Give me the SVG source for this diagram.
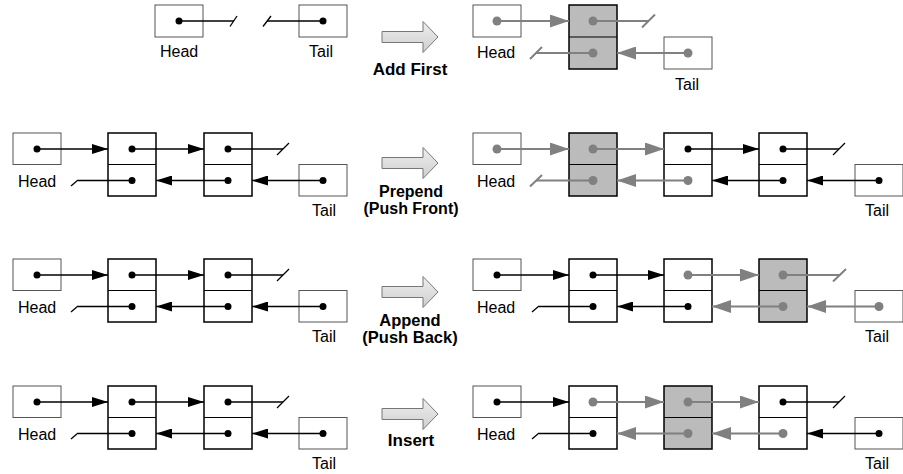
<svg xmlns="http://www.w3.org/2000/svg" width="903" height="474" viewBox="0 0 903 474">
<defs>
<style>
.box{fill:#fff;stroke:#555;stroke-width:1}
.node{fill:#fff;stroke:#000;stroke-width:1.5}
.new{fill:#bbb}
.div{stroke:#000;stroke-width:1.2}
.b{stroke:#000;stroke-width:1.3;fill:none}
.g{stroke:#808080;stroke-width:2;fill:none}
.db{fill:#000}
.dg{fill:#808080}
.lbl{font-family:"Liberation Sans",Arial,sans-serif;font-size:16px;fill:#000}
.op{font-family:"Liberation Sans",Arial,sans-serif;font-weight:bold;fill:#000;text-anchor:middle}
.big{fill:url(#grad);stroke:#777;stroke-width:1}
</style>
<linearGradient id="grad" x1="0" y1="0" x2="0" y2="1">
<stop offset="0" stop-color="#eeeeee"/>
<stop offset="1" stop-color="#cfcfcf"/>
</linearGradient>
<marker id="ab" markerUnits="userSpaceOnUse" markerWidth="16" markerHeight="10" refX="16" refY="5" orient="auto">
<path d="M0,0 L16,5 L0,10 z" fill="#000"/>
</marker>
<marker id="ag" markerUnits="userSpaceOnUse" markerWidth="19" markerHeight="13" refX="19" refY="6.5" orient="auto">
<path d="M0,0 L19,6.5 L0,13 z" fill="#808080"/>
</marker>
</defs>

<!-- ===== Row 1 ===== -->
<g id="r1-head-before"><rect class="box" x="155" y="5" width="48" height="32"/><text class="lbl" x="160" y="57">Head</text></g>
<g id="r1-tail-before"><rect class="box" x="299" y="5" width="48" height="32"/><text class="lbl" x="309" y="57">Tail</text></g>
<g id="r1-op"><polygon class="big" points="382,31.5 423,31.5 423,21.5 438,37 423,52.5 423,42.5 382,42.5"/><text class="op" x="410" y="75" font-size="17">Add First</text></g>
<g id="r1-head-after"><rect class="box" x="473" y="5" width="48" height="32"/><text class="lbl" x="477" y="58">Head</text></g>
<g id="r1-new"><rect class="node new" x="569" y="5" width="48" height="64"/><line class="div" x1="569" y1="37" x2="617" y2="37"/></g>
<g id="r1-tail-after"><rect class="box" x="664" y="37" width="48" height="32"/><text class="lbl" x="675" y="90">Tail</text></g>

<!-- ===== Row 2 ===== -->
<g id="r2-head-before"><rect class="box" x="13" y="133" width="48" height="31.5"/><text class="lbl" x="18" y="187">Head</text></g>
<g id="r2-n1-before"><rect class="node" x="108" y="133" width="48" height="63"/><line class="div" x1="108" y1="164.5" x2="156" y2="164.5"/></g>
<g id="r2-n2-before"><rect class="node" x="204" y="133" width="48" height="63"/><line class="div" x1="204" y1="164.5" x2="252" y2="164.5"/></g>
<g id="r2-tail-before"><rect class="box" x="299" y="164.5" width="48" height="31.5"/><text class="lbl" x="312" y="216">Tail</text></g>
<g id="r2-op"><polygon class="big" points="382,157.5 423,157.5 423,147.5 438,163 423,178.5 423,168.5 382,168.5"/><text class="op" x="411" y="197" font-size="16">Prepend</text><text class="op" x="411" y="214" font-size="16">(Push Front)</text></g>
<g id="r2-head-after"><rect class="box" x="473" y="133" width="48" height="31.5"/><text class="lbl" x="477" y="187">Head</text></g>
<g id="r2-new"><rect class="node new" x="569" y="133" width="48" height="63"/><line class="div" x1="569" y1="164.5" x2="617" y2="164.5"/></g>
<g id="r2-n1-after"><rect class="node" x="664" y="133" width="48" height="63"/><line class="div" x1="664" y1="164.5" x2="712" y2="164.5"/></g>
<g id="r2-n2-after"><rect class="node" x="759" y="133" width="48" height="63"/><line class="div" x1="759" y1="164.5" x2="807" y2="164.5"/></g>
<g id="r2-tail-after"><rect class="box" x="855" y="164.5" width="48" height="31.5"/><text class="lbl" x="865" y="216">Tail</text></g>

<!-- ===== Row 3 ===== -->
<g id="r3-head-before"><rect class="box" x="13" y="259" width="48" height="31.5"/><text class="lbl" x="18" y="313">Head</text></g>
<g id="r3-n1-before"><rect class="node" x="108" y="259" width="48" height="63"/><line class="div" x1="108" y1="290.5" x2="156" y2="290.5"/></g>
<g id="r3-n2-before"><rect class="node" x="204" y="259" width="48" height="63"/><line class="div" x1="204" y1="290.5" x2="252" y2="290.5"/></g>
<g id="r3-tail-before"><rect class="box" x="299" y="290.5" width="48" height="31.5"/><text class="lbl" x="312" y="342">Tail</text></g>
<g id="r3-op"><polygon class="big" points="382,286.5 423,286.5 423,276.5 438,292 423,307.5 423,297.5 382,297.5"/><text class="op" x="410" y="326" font-size="16.5">Append</text><text class="op" x="410" y="343" font-size="16.5">(Push Back)</text></g>
<g id="r3-head-after"><rect class="box" x="473" y="259" width="48" height="31.5"/><text class="lbl" x="477" y="313">Head</text></g>
<g id="r3-n1-after"><rect class="node" x="569" y="259" width="48" height="63"/><line class="div" x1="569" y1="290.5" x2="617" y2="290.5"/></g>
<g id="r3-n2-after"><rect class="node" x="664" y="259" width="48" height="63"/><line class="div" x1="664" y1="290.5" x2="712" y2="290.5"/></g>
<g id="r3-new"><rect class="node new" x="759" y="259" width="48" height="63"/><line class="div" x1="759" y1="290.5" x2="807" y2="290.5"/></g>
<g id="r3-tail-after"><rect class="box" x="855" y="290.5" width="48" height="31.5"/><text class="lbl" x="865" y="342">Tail</text></g>

<!-- ===== Row 4 ===== -->
<g id="r4-head-before"><rect class="box" x="13" y="386" width="48" height="31.5"/><text class="lbl" x="18" y="440">Head</text></g>
<g id="r4-n1-before"><rect class="node" x="108" y="386" width="48" height="63"/><line class="div" x1="108" y1="417.5" x2="156" y2="417.5"/></g>
<g id="r4-n2-before"><rect class="node" x="204" y="386" width="48" height="63"/><line class="div" x1="204" y1="417.5" x2="252" y2="417.5"/></g>
<g id="r4-tail-before"><rect class="box" x="299" y="417.5" width="48" height="31.5"/><text class="lbl" x="312" y="469">Tail</text></g>
<g id="r4-op"><polygon class="big" points="382,408.5 423,408.5 423,398.5 438,414 423,429.5 423,419.5 382,419.5"/><text class="op" x="411" y="446" font-size="17">Insert</text></g>
<g id="r4-head-after"><rect class="box" x="473" y="386" width="48" height="31.5"/><text class="lbl" x="477" y="440">Head</text></g>
<g id="r4-n1-after"><rect class="node" x="569" y="386" width="48" height="63"/><line class="div" x1="569" y1="417.5" x2="617" y2="417.5"/></g>
<g id="r4-new"><rect class="node new" x="664" y="386" width="48" height="63"/><line class="div" x1="664" y1="417.5" x2="712" y2="417.5"/></g>
<g id="r4-n2-after"><rect class="node" x="759" y="386" width="48" height="63"/><line class="div" x1="759" y1="417.5" x2="807" y2="417.5"/></g>
<g id="r4-tail-after"><rect class="box" x="855" y="417.5" width="48" height="31.5"/><text class="lbl" x="865" y="469">Tail</text></g>

<g id="connectors">
<!-- Row 1 left -->
<line class="b" x1="179" y1="21" x2="234" y2="21"/>
<line class="b" x1="230" y1="26.5" x2="237" y2="16"/>
<line class="b" x1="323" y1="21" x2="267" y2="21"/>
<line class="b" x1="263" y1="26.5" x2="271" y2="16"/>
<circle class="db" cx="179" cy="21" r="3.5"/>
<circle class="db" cx="323" cy="21" r="3.5"/>
<!-- Row 1 right -->
<line class="g" x1="497" y1="21" x2="569" y2="21" marker-end="url(#ag)"/>
<line class="g" x1="593" y1="21" x2="648.5" y2="21"/>
<line class="g" x1="642" y1="27.5" x2="655" y2="14.5"/>
<line class="g" x1="593" y1="53" x2="536" y2="53"/>
<line class="g" x1="530" y1="59" x2="542" y2="47"/>
<line class="g" x1="688" y1="53" x2="617" y2="53" marker-end="url(#ag)"/>
<circle class="dg" cx="497" cy="21" r="4.5"/>
<circle class="dg" cx="593" cy="21" r="4.5"/>
<circle class="dg" cx="593" cy="53" r="4.5"/>
<circle class="dg" cx="688" cy="53" r="4.5"/>

<!-- Row 2 left -->
<line class="b" x1="37" y1="149" x2="108" y2="149" marker-end="url(#ab)"/>
<line class="b" x1="132" y1="149" x2="204" y2="149" marker-end="url(#ab)"/>
<line class="b" x1="228" y1="149" x2="283" y2="149"/>
<line class="b" x1="277" y1="155" x2="289" y2="143"/>
<line class="b" x1="323" y1="180.5" x2="252" y2="180.5" marker-end="url(#ab)"/>
<line class="b" x1="228" y1="180.5" x2="156" y2="180.5" marker-end="url(#ab)"/>
<line class="b" x1="132" y1="180.5" x2="78" y2="180.5"/>
<line class="b" x1="71" y1="186" x2="78" y2="180"/>
<circle class="db" cx="37" cy="149" r="3.5"/>
<circle class="db" cx="132" cy="149" r="3.5"/>
<circle class="db" cx="228" cy="149" r="3.5"/>
<circle class="db" cx="132" cy="180.5" r="3.5"/>
<circle class="db" cx="228" cy="180.5" r="3.5"/>
<circle class="db" cx="323" cy="180.5" r="3.5"/>
<!-- Row 2 right -->
<line class="g" x1="497" y1="149" x2="569" y2="149" marker-end="url(#ag)"/>
<line class="g" x1="593" y1="149" x2="664" y2="149" marker-end="url(#ag)"/>
<line class="b" x1="688" y1="149" x2="759" y2="149" marker-end="url(#ab)"/>
<line class="b" x1="783" y1="149" x2="839" y2="149"/>
<line class="b" x1="833" y1="155" x2="845" y2="143"/>
<line class="b" x1="879" y1="180.5" x2="807" y2="180.5" marker-end="url(#ab)"/>
<line class="b" x1="783" y1="180.5" x2="712" y2="180.5" marker-end="url(#ab)"/>
<line class="g" x1="688" y1="180.5" x2="617" y2="180.5" marker-end="url(#ag)"/>
<line class="g" x1="593" y1="180.5" x2="536" y2="180.5"/>
<line class="g" x1="530" y1="186.5" x2="542" y2="175"/>
<circle class="dg" cx="497" cy="149" r="4.5"/>
<circle class="dg" cx="593" cy="149" r="4.5"/>
<circle class="db" cx="688" cy="149" r="3.5"/>
<circle class="db" cx="783" cy="149" r="3.5"/>
<circle class="dg" cx="593" cy="180.5" r="4.5"/>
<circle class="dg" cx="688" cy="180.5" r="4.5"/>
<circle class="db" cx="783" cy="180.5" r="3.5"/>
<circle class="db" cx="879" cy="180.5" r="3.5"/>

<!-- Row 3 left -->
<line class="b" x1="37" y1="275" x2="108" y2="275" marker-end="url(#ab)"/>
<line class="b" x1="132" y1="275" x2="204" y2="275" marker-end="url(#ab)"/>
<line class="b" x1="228" y1="275" x2="283" y2="275"/>
<line class="b" x1="277" y1="281" x2="289" y2="269"/>
<line class="b" x1="323" y1="306.5" x2="252" y2="306.5" marker-end="url(#ab)"/>
<line class="b" x1="228" y1="306.5" x2="156" y2="306.5" marker-end="url(#ab)"/>
<line class="b" x1="132" y1="306.5" x2="78" y2="306.5"/>
<line class="b" x1="71" y1="312" x2="78" y2="306"/>
<circle class="db" cx="37" cy="275" r="3.5"/>
<circle class="db" cx="132" cy="275" r="3.5"/>
<circle class="db" cx="228" cy="275" r="3.5"/>
<circle class="db" cx="132" cy="306.5" r="3.5"/>
<circle class="db" cx="228" cy="306.5" r="3.5"/>
<circle class="db" cx="323" cy="306.5" r="3.5"/>
<!-- Row 3 right -->
<line class="b" x1="497" y1="275" x2="569" y2="275" marker-end="url(#ab)"/>
<line class="b" x1="593" y1="275" x2="664" y2="275" marker-end="url(#ab)"/>
<line class="g" x1="688" y1="275" x2="759" y2="275" marker-end="url(#ag)"/>
<line class="g" x1="783" y1="275" x2="839" y2="275"/>
<line class="g" x1="833" y1="281.5" x2="846" y2="269"/>
<line class="g" x1="879" y1="306.5" x2="807" y2="306.5" marker-end="url(#ag)"/>
<line class="g" x1="783" y1="306.5" x2="712" y2="306.5" marker-end="url(#ag)"/>
<line class="b" x1="688" y1="306.5" x2="617" y2="306.5" marker-end="url(#ab)"/>
<line class="b" x1="593" y1="306.5" x2="539" y2="306.5"/>
<line class="b" x1="532" y1="312" x2="539" y2="306"/>
<circle class="db" cx="497" cy="275" r="3.5"/>
<circle class="db" cx="593" cy="275" r="3.5"/>
<circle class="dg" cx="688" cy="275" r="4.5"/>
<circle class="dg" cx="783" cy="275" r="4.5"/>
<circle class="db" cx="593" cy="306.5" r="3.5"/>
<circle class="db" cx="688" cy="306.5" r="3.5"/>
<circle class="dg" cx="783" cy="306.5" r="4.5"/>
<circle class="dg" cx="879" cy="306.5" r="4.5"/>

<!-- Row 4 left -->
<line class="b" x1="37" y1="402" x2="108" y2="402" marker-end="url(#ab)"/>
<line class="b" x1="132" y1="402" x2="204" y2="402" marker-end="url(#ab)"/>
<line class="b" x1="228" y1="402" x2="283" y2="402"/>
<line class="b" x1="277" y1="408" x2="289" y2="396"/>
<line class="b" x1="323" y1="433.5" x2="252" y2="433.5" marker-end="url(#ab)"/>
<line class="b" x1="228" y1="433.5" x2="156" y2="433.5" marker-end="url(#ab)"/>
<line class="b" x1="132" y1="433.5" x2="78" y2="433.5"/>
<line class="b" x1="71" y1="439" x2="78" y2="433"/>
<circle class="db" cx="37" cy="402" r="3.5"/>
<circle class="db" cx="132" cy="402" r="3.5"/>
<circle class="db" cx="228" cy="402" r="3.5"/>
<circle class="db" cx="132" cy="433.5" r="3.5"/>
<circle class="db" cx="228" cy="433.5" r="3.5"/>
<circle class="db" cx="323" cy="433.5" r="3.5"/>
<!-- Row 4 right -->
<line class="b" x1="497" y1="402" x2="569" y2="402" marker-end="url(#ab)"/>
<line class="g" x1="593" y1="402" x2="664" y2="402" marker-end="url(#ag)"/>
<line class="g" x1="688" y1="402" x2="759" y2="402" marker-end="url(#ag)"/>
<line class="b" x1="783" y1="402" x2="839" y2="402"/>
<line class="b" x1="833" y1="408" x2="845" y2="396"/>
<line class="b" x1="879" y1="433.5" x2="807" y2="433.5" marker-end="url(#ab)"/>
<line class="g" x1="783" y1="433.5" x2="712" y2="433.5" marker-end="url(#ag)"/>
<line class="g" x1="688" y1="433.5" x2="617" y2="433.5" marker-end="url(#ag)"/>
<line class="b" x1="593" y1="433.5" x2="539" y2="433.5"/>
<line class="b" x1="532" y1="439" x2="539" y2="433"/>
<circle class="db" cx="497" cy="402" r="3.5"/>
<circle class="dg" cx="593" cy="402" r="4.5"/>
<circle class="dg" cx="688" cy="402" r="4.5"/>
<circle class="db" cx="783" cy="402" r="3.5"/>
<circle class="db" cx="593" cy="433.5" r="3.5"/>
<circle class="dg" cx="688" cy="433.5" r="4.5"/>
<circle class="dg" cx="783" cy="433.5" r="4.5"/>
<circle class="db" cx="879" cy="433.5" r="3.5"/>
</g>
</svg>
